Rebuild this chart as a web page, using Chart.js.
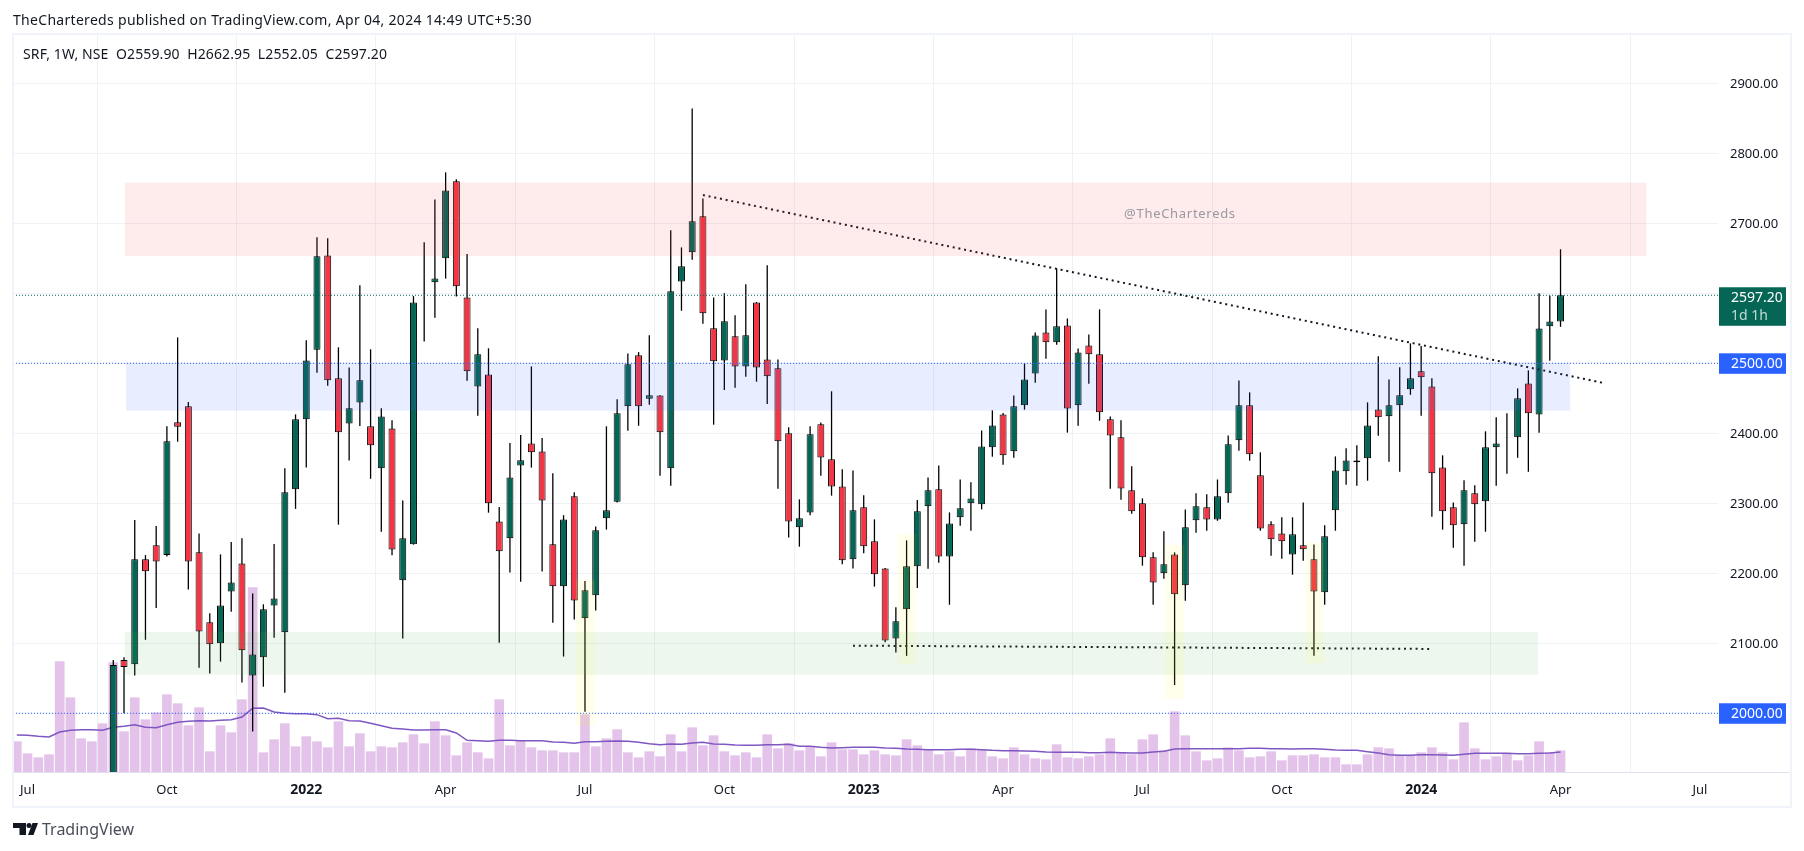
<!DOCTYPE html>
<html>
<head>
<meta charset="utf-8">
<title>SRF 1W</title>
<script src="https://cdn.jsdelivr.net/npm/chart.js@4/dist/chart.umd.min.js"></script>
<style>
  html, body { margin: 0; padding: 0; background: #fff; }
  body { width: 1804px; height: 851px; position: relative; overflow: hidden; font-family: "Noto Sans", sans-serif; color: #131722; }
  canvas { position: absolute; left: 0; top: 0; }
  .txt { position: absolute; white-space: pre; font-size: 14px; line-height: 18px; }
  #header { left: 13px; top: 11px; letter-spacing: 0.3px; }
  #legend { left: 23px; top: 45px; letter-spacing: 0.12px; }
  #brand { left: 42px; top: 819px; font-size: 16px; line-height: 20px; color: #4a4e59; }
  #logo { position: absolute; left: 13px; top: 822px; }
</style>
</head>
<body>
<canvas id="chart" width="1804" height="851"></canvas>
<div class="txt" id="header">TheChartereds published on TradingView.com, Apr 04, 2024 14:49 UTC+5:30</div>
<div class="txt" id="legend">SRF, 1W, NSE  O2559.90  H2662.95  L2552.05  C2597.20</div>
<svg id="logo" width="25" height="14" viewBox="0 0 25 14"><path d="M0 1h13v12H6.5V6H0zM15 13l4.5-12H25l-4.5 12z" fill="#131722"/><circle cx="16" cy="3.5" r="2.5" fill="#131722"/></svg>
<div class="txt" id="brand">TradingView</div>
<script>
// weekly candles, index 0 = first visible candle (end of Aug 2021)
const candleOpen = [1850,2076,2070,2220,2240,2226,2415.7,2438.5,2230,2130,2100,2174,2214,2054,2080,2154,2115.7,2320,2420,2519.5,2654,2478.5,2414,2444,2410,2350,2407,2190,2241.4,2614,2615.7,2650,2760,2594,2467,2484,2274,2250,2354,2385.6,2374,2241.4,2181.4,2310,2135.7,2168.6,2278.6,2302.3,2438.5,2511.4,2449.4,2454,2350,2617,2658.5,2710,2550,2504,2538.5,2495.6,2587,2505.6,2492.8,2400,2265.7,2287,2412.8,2362.8,2324,2220,2294.2,2245.7,2207,2107,2148.6,2210,2295.6,2319.9,2224,2280,2300,2298.5,2380,2427,2374.2,2439.9,2485.6,2544,2529.9,2554,2439.9,2525.6,2512.8,2419.9,2394.2,2318.5,2299.9,2222.8,2199.9,2227,2182.8,2275.6,2294.2,2277,2314.2,2389.9,2439.9,2339.9,2269.9,2257,2227,2239.9,2219.9,2172.8,2289.9,2345.6,2361.3,2364.2,2434,2424.2,2439.9,2462.8,2488.5,2467,2351.3,2294.2,2269.9,2314.2,2302.8,2379.9,2394.5,2394.2,2471.3,2427,2552.8,2559.9];
const candleHigh = [2076,2080,2276,2226,2267.6,2410,2537,2444.7,2257,2142.8,2227,2244.8,2250,2171,2155.7,2241.9,2350,2427,2533,2680,2678.5,2522.8,2494,2611.4,2520,2435.7,2418.5,2304,2596,2672.8,2734,2772.8,2763,2656,2550,2521.4,2294.7,2386,2397.5,2495.6,2393.3,2342.8,2283,2315.6,2189,2267,2410,2448.5,2514,2516,2540,2454.5,2690,2665.6,2864,2735.6,2594,2600,2568.5,2612.8,2587.5,2640,2505.6,2408.5,2305.6,2410,2415.6,2460,2348.5,2347,2311.4,2277,2207.5,2151.4,2247,2304.7,2337,2354,2287,2334,2330,2404,2432.8,2429,2454,2499.9,2544,2577,2635.6,2564,2521.3,2541.3,2577,2424,2418.5,2352.8,2307,2229.9,2259.9,2229.9,2291.3,2314.2,2312.8,2334,2397,2475.6,2458.5,2372.8,2274.2,2279.9,2279.9,2301.3,2241.3,2268.5,2367,2378.5,2382.8,2444.2,2509.9,2477,2494.2,2528.5,2524.7,2478.5,2368.5,2301.3,2332.8,2325.6,2402.8,2422.8,2428.5,2464.2,2489.9,2600,2597,2662.95];
const candleLow = [1840,2000,2054,2105,2150.5,2224,2388,2176.7,2065,2056.7,2073.8,2145,2043.8,1973.8,2038,2108,2029.5,2292,2351,2486.6,2468,2269.5,2361,2410.5,2335,2259.5,2225.7,2106.7,2241,2531,2565,2621,2595.6,2475,2425,2286.6,2100.9,2201,2188,2351,2202.4,2129.5,2081,2133.8,2002,2146.7,2262.4,2301,2403.7,2410.8,2440.8,2339.4,2325,2575,2648,2556.6,2412.3,2461.8,2465,2480.9,2473.7,2442,2320.9,2251,2238,2283,2339.4,2310.9,2212.9,2206.7,2228.6,2181,2101.4,2086.7,2082,2179,2206.6,2215,2155,2268,2260.8,2291.3,2366.6,2355,2365,2433.7,2472.3,2506.6,2526.6,2400.9,2410.9,2470.9,2418,2320.9,2305,2285,2210.9,2155,2192.3,2040.4,2160.9,2258,2260.8,2275,2300.9,2375,2360.9,2260.8,2225,2220.9,2198,2218,2082.3,2155,2260.8,2326.6,2325,2332.3,2396.6,2359.4,2345,2455,2425,2280.9,2262.3,2236.6,2210.9,2245,2259.4,2325,2342.3,2365,2345,2400.9,2503.7,2552.05];
const candleClose = [2069,2066,2220,2203,2217,2388.6,2409.5,2217,2117,2098.6,2154,2187,2090,2084,2148.6,2164,2315.7,2420,2504,2653,2475.7,2401.4,2435.7,2475.7,2382.9,2424,2234,2250,2587,2614,2621,2747,2610,2488.5,2512.8,2300,2231.4,2337,2361.4,2372.8,2304,2181.4,2277,2161,2175.7,2261.4,2290,2428.5,2498.5,2438.5,2454.2,2401.4,2602.8,2638.5,2702.8,2571.4,2502.8,2560,2495.6,2540,2494,2481.4,2388.5,2274,2278.6,2398.5,2365.6,2324,2218.6,2290,2238.6,2198.6,2104,2131.4,2210,2288.5,2318.5,2224,2271.3,2292.8,2307,2381.3,2411.3,2368.5,2438.5,2477,2539.9,2529.9,2552.8,2435.6,2515.6,2512.8,2429.9,2397,2321.3,2288.5,2222.8,2187,2212.8,2170,2265.6,2295.6,2277,2309.9,2384.2,2439.9,2369.9,2264,2248.5,2245.6,2255.6,2234.2,2174,2252.8,2347,2361.3,2358.5,2411.3,2422.8,2439.9,2454.2,2478.5,2479.9,2342.8,2288.5,2268.5,2318.5,2298.5,2379.9,2385.6,2394,2449.9,2428.5,2549.9,2559.9,2597.2];

// volume pane, index -9 .. 135 (the volume history starts before the candles)
const volumeStart = -9;
const volumeValues = [91,55,43,52,331,223,100,91,145,328,121,223,157,178,232,205,139,193,61,139,118,217,553,58,97,145,76,106,91,73,151,76,115,61,76,73,88,112,85,151,109,49,88,58,40,217,79,94,73,64,64,58,58,172,76,100,127,58,43,61,46,112,61,133,79,109,61,49,58,43,112,70,85,64,76,46,88,67,67,52,64,52,49,97,79,67,52,61,46,70,67,46,40,73,52,40,37,82,43,40,46,52,100,58,52,97,112,64,181,109,61,34,40,73,64,43,46,61,34,49,49,52,43,43,22,22,52,73,70,49,49,58,73,58,37,148,70,37,46,55,34,49,91,58,64];
const volumeAverage = [111,110,107,105,120,125,127,127,125,134,137,142,134,133,142,149,152,154,153,155,157,165,191,192,180,176,175,175,172,160,161,154,153,146,139,131,129,126,126,127,127,117,95,94,92,95,95,94,94,94,90,89,86,91,91,92,93,92,89,85,82,84,83,87,89,84,83,81,80,80,82,82,83,77,77,74,72,73,74,74,74,72,71,69,68,67,67,67,68,68,67,65,64,64,63,62,60,59,59,59,58,58,59,58,57,57,60,62,69,70,70,70,70,70,70,71,71,70,70,69,70,70,68,66,65,65,61,57,52,50,50,52,52,51,50,53,56,56,56,56,55,55,56,57,60];

// axis ticks (x given as week index)
const timeTicks = [-8, 5, 18, 31, 44, 57, 70, 83, 96, 109, 122, 135, 148];
const timeLabels = ['Jul', 'Oct', '2022', 'Apr', 'Jul', 'Oct', '2023', 'Apr', 'Jul', 'Oct', '2024', 'Apr', 'Jul'];
const priceTicks = [2000, 2100, 2200, 2300, 2400, 2500, 2600, 2700, 2800, 2900];

// horizontal price lines
const lastPrice = 2597.2;
const levelLines = [2500, 2000];

// drawings: [start week, end week, top price, bottom price]
const redZone = [1.09, 143, 2758, 2653.3];
const blueZone = [1.18, 135.9, 2500.9, 2432.3];
const greenZone = [1.09, 132.9, 2116, 2055];
const yellowMarks = [
    [43.16, 44.93, 2191, 1981.9],
    [73.2, 74.85, 2256, 2070],
    [98.1, 99.9, 2240.4, 2020.4],
    [111.2, 112.9, 2244, 2071.4]
];
const trendDown = [{ x: 55, y: 2740.4 }, { x: 138.9, y: 2472.3 }];
const trendFlat = [{ x: 69, y: 2096.6 }, { x: 122.9, y: 2091.9 }];
const watermark = { x: 99.5, y: 2713, text: '@TheChartereds' };

const GREEN = '#056656';
const RED = '#f23645';
const BLUE = '#2962ff';
const GRID = '#f0f1f5';
const FONT = '"Noto Sans", sans-serif';
const xMin = -9.356;
const xMax = 149.69;

const candleX = candleOpen.map((_, i) => i);

const drawBadge = (ctx, top, height, color, lines) => {
    ctx.fillStyle = color;
    ctx.fillRect(1719, top, 67, height);
    ctx.font = '14px ' + FONT;
    ctx.textAlign = 'left';
    ctx.textBaseline = 'middle';
    lines.forEach((line, i) => {
        ctx.fillStyle = i === 0 ? '#ffffff' : 'rgba(255,255,255,0.75)';
        ctx.fillText(line, 1731, top + 10.5 + i * 18);
    });
};

// zones sit on top of the candles, as they do on TradingView
const zonesPlugin = {
    id: 'zones',
    afterDatasetsDraw(chart) {
        const { ctx, chartArea, scales: { x, y } } = chart;
        const fillZone = (zone, color) => {
            const left = x.getPixelForValue(zone[0]);
            const right = x.getPixelForValue(zone[1]);
            const top = y.getPixelForValue(zone[2]);
            const bottom = y.getPixelForValue(zone[3]);
            ctx.fillStyle = color;
            ctx.fillRect(left, top, right - left, bottom - top);
        };
        ctx.save();
        ctx.beginPath();
        ctx.rect(chartArea.left, chartArea.top, chartArea.width, chartArea.height);
        ctx.clip();
        fillZone(redZone, 'rgba(242,54,69,0.1)');
        fillZone(blueZone, 'rgba(41,98,255,0.11)');
        fillZone(greenZone, 'rgba(76,175,80,0.1)');
        yellowMarks.forEach(mark => fillZone(mark, 'rgba(255,255,0,0.08)'));
        ctx.font = '13px ' + FONT;
        ctx.letterSpacing = '0.7px';
        ctx.fillStyle = 'rgba(120,123,134,0.75)';
        ctx.textAlign = 'center';
        ctx.textBaseline = 'middle';
        ctx.fillText(watermark.text, x.getPixelForValue(watermark.x), y.getPixelForValue(watermark.y));
        ctx.restore();
    },
    afterDraw(chart) {
        const { ctx, chartArea, scales: { y } } = chart;
        ctx.save();
        // time axis separator and outer frame
        ctx.fillStyle = '#e0e3eb';
        ctx.fillRect(chartArea.left, chartArea.bottom, 1791 - chartArea.left, 1);
        ctx.strokeStyle = '#f0f3fa';
        ctx.lineWidth = 2;
        ctx.strokeRect(13, 34, 1778, 773);
        drawBadge(ctx, y.getPixelForValue(lastPrice) - 8, 38.5, GREEN, [lastPrice.toFixed(2), '1d 1h']);
        levelLines.forEach(level => {
            drawBadge(ctx, y.getPixelForValue(level) - 10, 20.5, BLUE, [level.toFixed(2)]);
        });
        ctx.restore();
    }
};

const priceLine = (price, color) => ({
    type: 'line',
    data: [{ x: xMin, y: price }, { x: xMax, y: price }],
    borderColor: color,
    borderWidth: 1,
    borderDash: [1, 2],
    pointRadius: 0,
    order: 1
});

const trendLine = (points) => ({
    type: 'line',
    data: points,
    borderColor: '#131722',
    borderWidth: 2,
    borderDash: [2, 3.8],
    pointRadius: 0,
    order: 0
});

new Chart(document.getElementById('chart').getContext('2d'), {
    type: 'bar',
    data: {
        datasets: [
            // volume
            {
                data: volumeValues.map((v, i) => ({ x: volumeStart + i, y: v })),
                yAxisID: 'yVol',
                backgroundColor: 'rgba(186,104,200,0.4)',
                barThickness: 9,
                grouped: false,
                order: 6
            },
            {
                type: 'line',
                data: volumeAverage.map((v, i) => ({ x: volumeStart + i, y: v })),
                yAxisID: 'yVol',
                borderColor: '#7e57c2',
                borderWidth: 1.5,
                pointRadius: 0,
                order: 5
            },
            // wicks
            {
                data: candleX.map(i => ({ x: i, y: [candleLow[i], candleHigh[i]] })),
                backgroundColor: '#000000',
                barThickness: 1.3,
                inflateAmount: 0,
                grouped: false,
                order: 4
            },
            // bodies
            {
                data: candleX.map(i => ({ x: i, y: [candleOpen[i], candleClose[i]] })),
                backgroundColor: candleX.map(i => candleClose[i] >= candleOpen[i] ? GREEN : RED),
                borderColor: '#000000',
                borderWidth: 1,
                borderSkipped: false,
                barThickness: 7,
                inflateAmount: 0,
                grouped: false,
                order: 3
            },
            priceLine(lastPrice, GREEN),
            priceLine(levelLines[0], BLUE),
            priceLine(levelLines[1], BLUE),
            trendLine(trendDown),
            trendLine(trendFlat)
        ]
    },
    options: {
        responsive: false,
        animation: false,
        layout: { autoPadding: false, padding: { left: 13, top: 33, right: 12, bottom: 45 } },
        plugins: { legend: { display: false }, tooltip: { enabled: false } },
        scales: {
            x: {
                type: 'linear',
                min: xMin,
                max: xMax,
                offset: false,
                afterBuildTicks: (axis) => { axis.ticks = timeTicks.map(value => ({ value })); },
                afterFit: (axis) => { axis.height = 34; },
                grid: { color: GRID, drawTicks: false },
                border: { display: false },
                ticks: {
                    autoSkip: false,
                    maxRotation: 0,
                    padding: 10,
                    color: '#131722',
                    font: (c) => ({
                        family: FONT,
                        size: /^\d/.test(c.tick ? c.tick.label : '') ? 14 : 13,
                        weight: /^\d/.test(c.tick ? c.tick.label : '') ? 'bold' : 'normal'
                    }),
                    callback: (value) => timeLabels[timeTicks.indexOf(value)]
                }
            },
            y: {
                type: 'linear',
                position: 'right',
                min: 1916.1,
                max: 2971.9,
                afterBuildTicks: (axis) => { axis.ticks = priceTicks.map(value => ({ value })); },
                afterFit: (axis) => { axis.width = 74; },
                grid: { color: GRID, drawTicks: false },
                border: { display: false },
                ticks: {
                    padding: 12,
                    labelOffset: 1,
                    color: '#131722',
                    font: { family: FONT, size: 13 },
                    callback: (value) => value.toFixed(2)
                }
            },
            yVol: {
                type: 'linear',
                display: false,
                min: 0,
                max: 2217
            }
        }
    },
    plugins: [zonesPlugin]
});
</script>
</body>
</html>
